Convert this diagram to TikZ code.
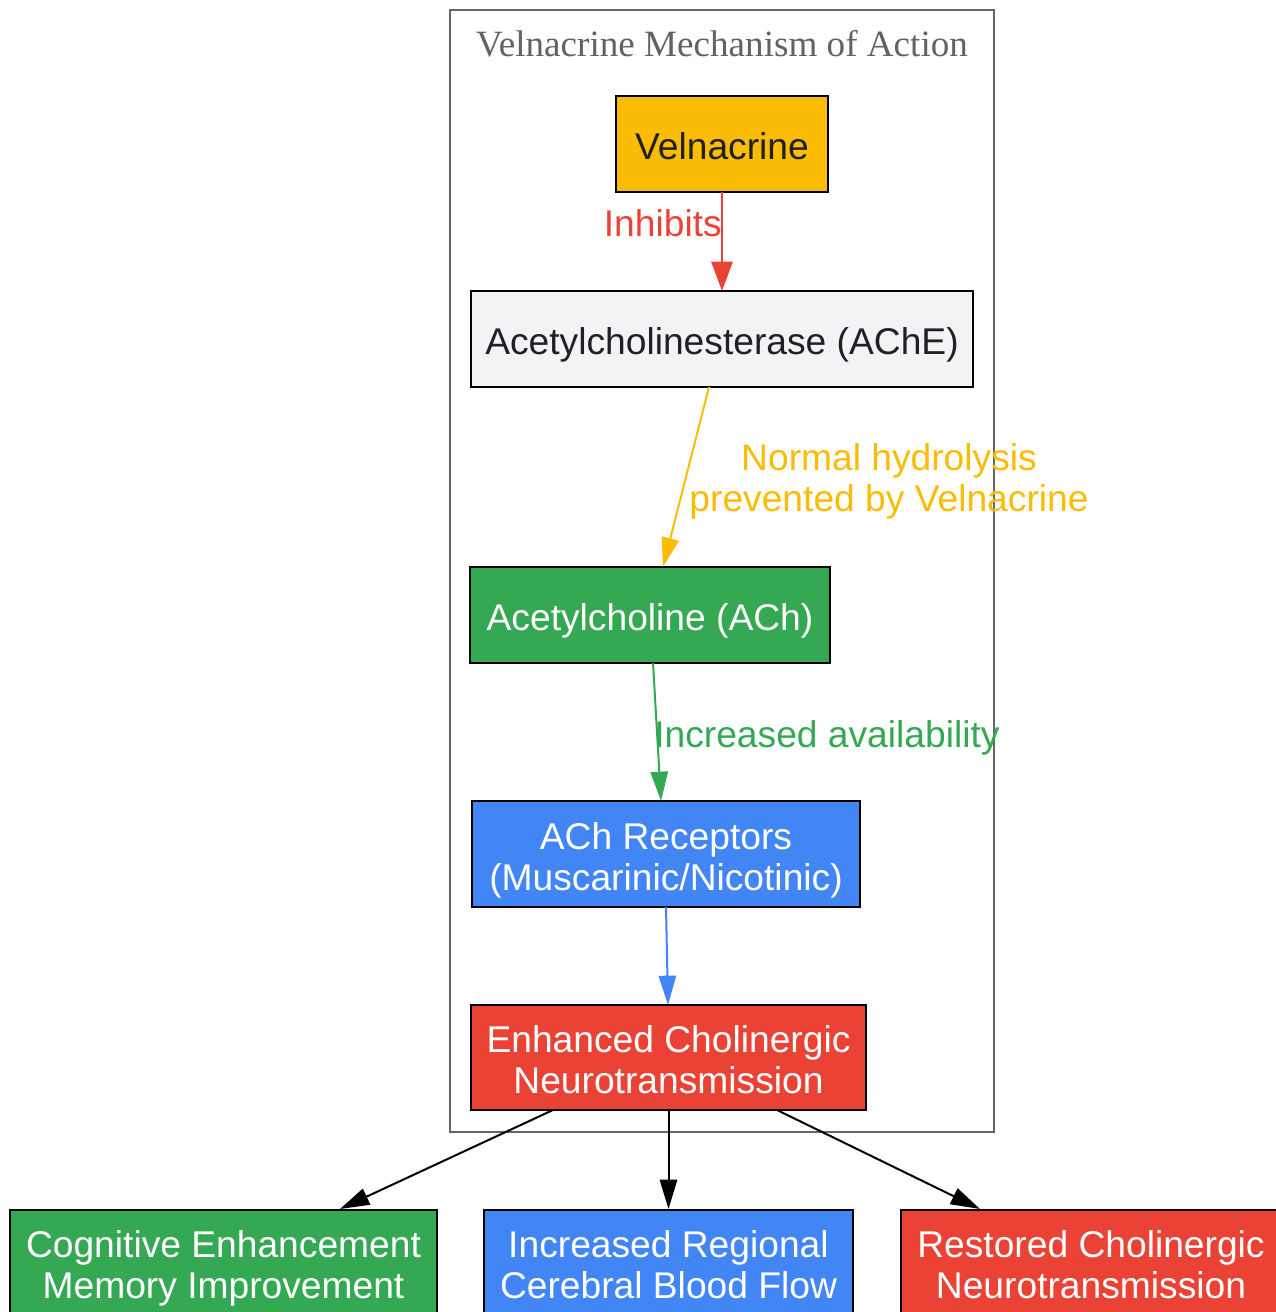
\documentclass[tikz,border=0pt]{standalone}
\usepackage{fontspec}
\setmainfont{Liberation Sans}
\newfontfamily\titlefont{Liberation Serif}
\usetikzlibrary{arrows.meta}
\definecolor{gyellow}{HTML}{FBBC05}
\definecolor{ggray}{HTML}{F1F3F4}
\definecolor{ggreen}{HTML}{34A853}
\definecolor{gblue}{HTML}{4285F4}
\definecolor{gred}{HTML}{EA4335}
\definecolor{titlegray}{HTML}{5F6368}
\definecolor{clustergray}{HTML}{666666}
\definecolor{darktext}{HTML}{202124}
% text placed with baseline(s) at fixed offsets from the node centre
\newcommand{\onel}[1]{\raisebox{-11.3pt}[0pt][0pt]{#1}}
\newcommand{\twol}[2]{\raisebox{-27pt}[0pt][0pt]{\begin{tabular}[b]{@{}c@{}}#1\\#2\end{tabular}}}
\tikzset{
  box/.style={draw=black, line width=1.5pt, rectangle, inner sep=0pt, align=center,
    font=\fontsize{27.9}{30.75}\selectfont, text=white},
  conn/.style={line width=1.5pt, -{Triangle[length=22pt,width=13pt]}},
  elabel/.style={font=\fontsize{27.9}{30.75}\selectfont, align=center, inner sep=0pt}
}
\begin{document}
\begin{tikzpicture}[x=0.75pt,y=-0.75pt]
\useasboundingbox (0,0) rectangle (1275,1312);
% cluster
\node[draw=clustergray, line width=1.5pt, rectangle, minimum width=408pt, minimum height=841.5pt, inner sep=0pt] (cluster) at (722,571) {};
\node[font=\titlefont\fontsize{27.85}{30}\selectfont, text=titlegray, inner sep=0pt] (title) at (722,44) {Velnacrine Mechanism of Action};
% nodes
\node[box, fill=gyellow, text=darktext, minimum width=159pt, minimum height=72pt] (vel) at (722,144) {\onel{Velnacrine}};
\node[box, fill=ggray, text=darktext, minimum width=376.5pt, minimum height=72pt] (ache) at (722,339) {\onel{Acetylcholinesterase (AChE)}};
\node[box, fill=ggreen, minimum width=270pt, minimum height=72pt] (ach) at (650,615) {\onel{Acetylcholine (ACh)}};
\node[box, fill=gblue, minimum width=291pt, minimum height=79.5pt] (rec) at (666,854) {\twol{ACh Receptors}{(Muscarinic/Nicotinic)}};
\node[box, fill=gred, minimum width=296.25pt, minimum height=78.75pt] (enh) at (668.5,1057.5) {\twol{Enhanced Cholinergic}{Neurotransmission}};
\node[box, fill=ggreen, minimum width=320.25pt, minimum height=78.75pt] (cog) at (223.5,1262) {\twol{Cognitive Enhancement}{Memory Improvement}};
\node[box, fill=gblue, minimum width=276.75pt, minimum height=78.75pt] (cbf) at (668.5,1262) {\twol{Increased Regional}{Cerebral Blood Flow}};
\node[box, fill=gred, minimum width=285pt, minimum height=78.75pt] (res) at (1091,1262) {\twol{Restored Cholinergic}{Neurotransmission}};
% edge endpoints
\coordinate (a1) at (722,192);
\coordinate (a2) at (722,291);
\coordinate (b1) at (709,387);
\coordinate (b2) at (663,567);
\coordinate (c1) at (653,663);
\coordinate (c2) at (661,801);
\coordinate (d1) at (666,907);
\coordinate (d2) at (668,1005);
\coordinate (e1) at (553,1110);
\coordinate (e2) at (340,1209);
\coordinate (f1) at (668.5,1110);
\coordinate (f2) at (668.5,1209);
\coordinate (g1) at (777,1110);
\coordinate (g2) at (980,1209);
% connectors
\draw[conn, draw=gred, -{Triangle[length=22pt,width=16pt]}, fill=gred] (a1) -- (a2);
\draw[conn, draw=gyellow, fill=gyellow] (b1) -- (b2);
\draw[conn, draw=ggreen, fill=ggreen] (c1) -- (c2);
\draw[conn, draw=gblue, fill=gblue] (d1) -- (d2);
\draw[conn, draw=black, fill=black] (e1) -- (e2);
\draw[conn, draw=black, fill=black] (f1) -- (f2);
\draw[conn, draw=black, fill=black] (g1) -- (g2);
% edge labels
\node[elabel, text=gred, anchor=east] (l1) at (722,223) {Inhibits};
\node[elabel, text=gyellow] (l2) at (889,481) {Normal hydrolysis\\prevented by Velnacrine};
\node[elabel, text=ggreen, anchor=west] (l3) at (654,738) {Increased availability};
\end{tikzpicture}
\end{document}
